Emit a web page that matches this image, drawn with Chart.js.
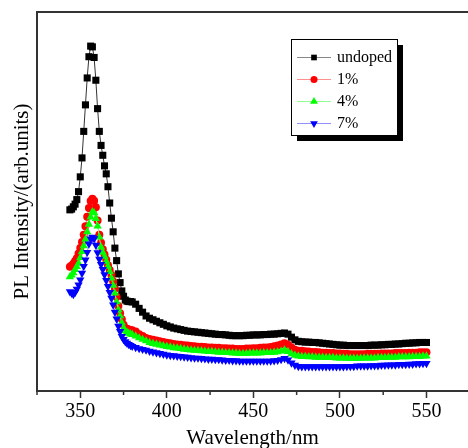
<!DOCTYPE html>
<html>
<head>
<meta charset="utf-8">
<title>PL spectra</title>
<script src="https://cdn.jsdelivr.net/npm/chart.js@4.4.1/dist/chart.umd.min.js"></script>
<style>
  html, body { margin: 0; padding: 0; background: #fff; overflow: hidden; }
  #plChart { display: block; }
</style>
</head>
<body>
<canvas id="plChart" width="468" height="448"></canvas>
<script>
// ------------------------------------------------------------
// Data (arbitrary intensity units)
// ------------------------------------------------------------
const wavelengths = [
  344, 345, 346, 347, 348, 349, 350, 351, 352, 353,
  354, 355, 356, 357, 358, 359, 360, 361, 362, 363,
  364, 365, 366, 367, 368, 369, 370, 371, 372, 373,
  374, 375, 376, 377, 378, 379, 380,
  382, 384, 386, 388, 390, 392, 394, 396, 398, 400,
  402, 404, 406, 408, 410, 412, 414, 416, 418, 420,
  422, 424, 426, 428, 430, 432, 434, 436, 438, 440,
  442, 444, 446, 448, 450, 452, 454, 456, 458, 460,
  462, 464, 466, 468, 470, 472, 474, 476, 478, 480,
  482, 484, 486, 488, 490, 492, 494, 496, 498, 500,
  502, 504, 506, 508, 510, 512, 514, 516, 518, 520,
  522, 524, 526, 528, 530, 532, 534, 536, 538, 540,
  542, 544, 546, 548, 550
];

const undoped = [
  47.8, 48.0, 48.6, 49.3, 50.5, 52.6, 56.5, 61.5, 68.5, 75.5,
  82.6, 88.2, 91.0, 90.8, 88.0, 82.0, 74.5, 68.5, 64.8, 62.2,
  59.4, 57.3, 53.9, 49.6, 45.6, 42.0, 37.7, 34.4, 30.9, 28.6,
  26.4, 25.0, 24.0, 23.7, 23.6, 23.6, 23.5,
  22.9, 21.8, 20.8, 19.8, 19.2, 18.8, 18.4, 18.0, 17.6, 17.2,
  16.9, 16.6, 16.4, 16.2, 16.0, 15.8, 15.7, 15.6, 15.5, 15.4,
  15.3, 15.2, 15.1, 15.0, 14.9, 14.9, 14.8, 14.7, 14.6, 14.6,
  14.6, 14.6, 14.7, 14.7, 14.8, 14.8, 14.8, 14.9, 14.9, 15.0,
  15.0, 15.1, 15.2, 15.3, 15.0, 14.2, 13.5, 13.1, 13.0, 12.9,
  12.9, 12.8, 12.8, 12.7, 12.6, 12.5, 12.4, 12.3, 12.2, 12.1,
  12.1, 12.0, 12.0, 12.0, 12.0, 12.0, 12.0, 12.0, 12.1, 12.1,
  12.1, 12.2, 12.2, 12.3, 12.3, 12.4, 12.4, 12.5, 12.6, 12.6,
  12.7, 12.7, 12.8, 12.8, 12.8
];

const doped1 = [
  32.8, 33.1, 33.6, 34.3, 35.0, 36.3, 37.7, 39.3, 41.2, 43.5,
  46.0, 48.3, 50.1, 50.7, 50.2, 48.5, 45.0, 41.2, 39.1, 37.4,
  36.0, 34.6, 33.2, 31.9, 30.6, 28.9, 27.0, 24.8, 22.4, 20.5,
  18.9, 17.5, 16.6, 16.4, 16.2, 16.1, 16.0,
  15.7, 15.0, 14.5, 14.0, 13.7, 13.5, 13.3, 13.1, 12.9, 12.7,
  12.6, 12.4, 12.3, 12.2, 12.1, 12.0, 11.9, 11.8, 11.7, 11.7,
  11.6, 11.5, 11.5, 11.4, 11.4, 11.3, 11.3, 11.2, 11.2, 11.1,
  11.1, 11.1, 11.2, 11.2, 11.3, 11.3, 11.4, 11.5, 11.5, 11.6,
  11.8, 12.0, 12.3, 12.6, 12.2, 11.5, 10.9, 10.6, 10.6, 10.5,
  10.4, 10.3, 10.3, 10.2, 10.1, 10.1, 10.0, 10.0, 9.9, 9.9,
  9.8, 9.8, 9.7, 9.7, 9.7, 9.7, 9.7, 9.8, 9.8, 9.8,
  9.8, 9.9, 9.9, 9.9, 9.9, 10.0, 10.0, 10.0, 10.0, 10.1,
  10.1, 10.1, 10.2, 10.2, 10.2
];

const doped4 = [
  30.1, 30.6, 31.2, 32.0, 32.8, 33.7, 35.2, 36.8, 38.3, 40.0,
  42.0, 44.0, 45.9, 47.3, 47.0, 45.5, 43.5, 40.6, 38.0, 36.6,
  35.5, 34.2, 32.9, 31.5, 29.8, 27.9, 25.8, 23.5, 21.4, 19.8,
  18.0, 16.5, 15.9, 15.5, 15.2, 15.0, 14.9,
  14.5, 14.0, 13.6, 13.2, 12.8, 12.5, 12.3, 12.1, 11.9, 11.7,
  11.6, 11.4, 11.3, 11.2, 11.0, 10.9, 10.8, 10.7, 10.7, 10.6,
  10.5, 10.4, 10.4, 10.3, 10.2, 10.2, 10.1, 10.1, 10.0, 10.0,
  9.9, 9.9, 9.9, 10.0, 10.0, 10.0, 10.0, 10.1, 10.1, 10.1,
  10.2, 10.3, 10.5, 10.8, 10.4, 9.8, 9.4, 9.2, 9.1, 9.1,
  9.0, 9.0, 8.9, 8.9, 8.9, 8.8, 8.8, 8.8, 8.7, 8.7,
  8.7, 8.6, 8.6, 8.6, 8.6, 8.6, 8.7, 8.7, 8.7, 8.7,
  8.8, 8.8, 8.8, 8.9, 8.9, 8.9, 9.0, 9.0, 9.0, 9.0,
  9.1, 9.1, 9.1, 9.2, 9.2
];

const doped7 = [
  26.2, 25.8, 25.5, 26.0, 26.9, 28.0, 29.3, 31.1, 32.9, 34.6,
  36.6, 38.8, 40.1, 40.6, 40.2, 38.5, 36.5, 34.8, 33.4, 32.1,
  30.7, 29.2, 27.6, 26.0, 24.5, 22.7, 20.8, 19.0, 17.1, 15.7,
  14.4, 13.6, 13.0, 12.6, 12.3, 12.0, 11.8,
  11.5, 11.2, 11.0, 10.8, 10.5, 10.3, 10.1, 9.9, 9.7, 9.5,
  9.4, 9.3, 9.2, 9.1, 9.0, 8.9, 8.8, 8.7, 8.7, 8.6,
  8.5, 8.4, 8.4, 8.3, 8.3, 8.2, 8.1, 8.1, 8.0, 8.0,
  7.9, 7.9, 7.9, 7.9, 7.9, 7.9, 7.9, 7.9, 7.9, 7.9,
  8.0, 8.1, 8.3, 8.6, 8.2, 7.4, 6.8, 6.5, 6.4, 6.4,
  6.4, 6.4, 6.4, 6.4, 6.4, 6.4, 6.4, 6.4, 6.4, 6.4,
  6.4, 6.5, 6.5, 6.5, 6.6, 6.6, 6.6, 6.6, 6.7, 6.7,
  6.7, 6.8, 6.8, 6.9, 6.9, 6.9, 7.0, 7.0, 7.0, 7.1,
  7.1, 7.2, 7.2, 7.3, 7.3
];

const seriesLabels = ['undoped', '1%', '4%', '7%'];
const xTicks = [350, 400, 450, 500, 550];
const xMinorTicks = [325, 375, 425, 475, 525];

const SERIF = '"Liberation Serif", "Times New Roman", serif';
const FRAME = '#333';

// ------------------------------------------------------------
// Dataset builder
// ------------------------------------------------------------
function makeSeries(label, values, fill, line, style, radius, rotation, order) {
  return {
    label,
    data: wavelengths.map((w, i) => ({ x: w, y: values[i] })),
    borderColor: line,
    borderWidth: 1,
    pointStyle: style,
    pointRadius: radius,
    pointHoverRadius: radius,
    pointRotation: rotation,
    pointBackgroundColor: fill,
    pointBorderWidth: 0,
    tension: 0,
    order,
  };
}

// ------------------------------------------------------------
// Top frame line, minor ticks and the boxed legend with shadow
// ------------------------------------------------------------
const framePlugin = {
  id: 'framePlugin',
  afterDraw(chart) {
    const { ctx, chartArea: a, scales: { x } } = chart;
    ctx.save();

    // top border (the right side of the frame falls outside the picture)
    ctx.strokeStyle = FRAME;
    ctx.lineWidth = 2;
    ctx.beginPath();
    ctx.moveTo(a.left - 1, a.top);
    ctx.lineTo(a.right, a.top);
    ctx.stroke();

    // minor ticks
    ctx.lineWidth = 1.5;
    ctx.beginPath();
    xMinorTicks.forEach(v => {
      const px = x.getPixelForValue(v);
      ctx.moveTo(px, a.bottom);
      ctx.lineTo(px, a.bottom + 4);
    });
    ctx.stroke();

    // legend
    const lx = 291, ly = 39, lw = 106, lh = 96;
    ctx.fillStyle = '#000';
    ctx.fillRect(lx + 6, ly + 6, lw, lh);
    ctx.fillStyle = '#fff';
    ctx.fillRect(lx, ly, lw, lh);
    ctx.strokeStyle = '#000';
    ctx.lineWidth = 1;
    ctx.strokeRect(lx + 0.5, ly + 0.5, lw, lh);

    chart.data.datasets.forEach((ds, i) => {
      const y = 57 + i * 22;
      ctx.strokeStyle = ds.legendLine;
      ctx.lineWidth = 1;
      ctx.beginPath();
      ctx.moveTo(297, y + 0.5);
      ctx.lineTo(331, y + 0.5);
      ctx.stroke();

      ctx.fillStyle = ds.pointBackgroundColor;
      Chart.helpers.drawPoint(ctx, {
        pointStyle: ds.pointStyle,
        rotation: ds.pointRotation,
        radius: ds.legendRadius,
        borderWidth: 0,
      }, 314, y + 0.5);

      ctx.fillStyle = '#000';
      ctx.font = '16px ' + SERIF;
      ctx.textBaseline = 'middle';
      ctx.textAlign = 'left';
      ctx.fillText(ds.label, 337, y + 1);
    });

    ctx.restore();
  }
};

const datasets = [
  makeSeries(seriesLabels[0], undoped, '#000000', '#333333', 'rect', 5, 0, 4),
  makeSeries(seriesLabels[1], doped1, '#ff0000', '#ff8080', 'circle', 4, 0, 3),
  makeSeries(seriesLabels[2], doped4, '#00ff00', '#80ff80', 'triangle', 4.8, 0, 2),
  makeSeries(seriesLabels[3], doped7, '#0000ff', '#8080ff', 'triangle', 4.8, 180, 1),
];
datasets[0].legendLine = '#888'; datasets[0].legendRadius = 4;
datasets[1].legendLine = '#ff9090'; datasets[1].legendRadius = 3.5;
datasets[2].legendLine = '#90ff90'; datasets[2].legendRadius = 4.5;
datasets[3].legendLine = '#9090ff'; datasets[3].legendRadius = 4.5;

new Chart(document.getElementById('plChart'), {
  type: 'line',
  data: { datasets },
  options: {
    responsive: false,
    animation: false,
    events: [],
    devicePixelRatio: 1,
    layout: { autoPadding: false, padding: { top: 12, right: 0, left: 0, bottom: 0 } },
    plugins: {
      legend: { display: false },
      tooltip: { enabled: false },
    },
    scales: {
      x: {
        type: 'linear',
        min: 325,
        max: 574,
        afterBuildTicks: axis => { axis.ticks = xTicks.map(v => ({ value: v })); },
        afterFit: axis => { axis.height = 57; },
        grid: {
          drawOnChartArea: false,
          drawTicks: true,
          tickLength: 7,
          tickColor: FRAME,
          tickWidth: 1.5,
        },
        border: { display: true, color: FRAME, width: 2 },
        ticks: {
          color: '#000',
          padding: 2,
          maxRotation: 0,
          font: { family: SERIF, size: 20 },
        },
        title: {
          display: true,
          text: 'Wavelength/nm',
          color: '#000',
          font: { family: SERIF, size: 21, lineHeight: 1 },
          padding: { top: 0, bottom: -1 },
        },
      },
      y: {
        min: 0,
        max: 100,
        afterFit: axis => { axis.width = 37; },
        grid: { display: false },
        border: { display: true, color: FRAME, width: 2 },
        ticks: { display: false },
        title: {
          display: true,
          text: 'PL Intensity/(arb.units)',
          color: '#000',
          font: { family: SERIF, size: 21, lineHeight: 1 },
          padding: { top: 12, bottom: 0 },
        },
      },
    },
  },
  plugins: [framePlugin],
});
</script>
</body>
</html>
